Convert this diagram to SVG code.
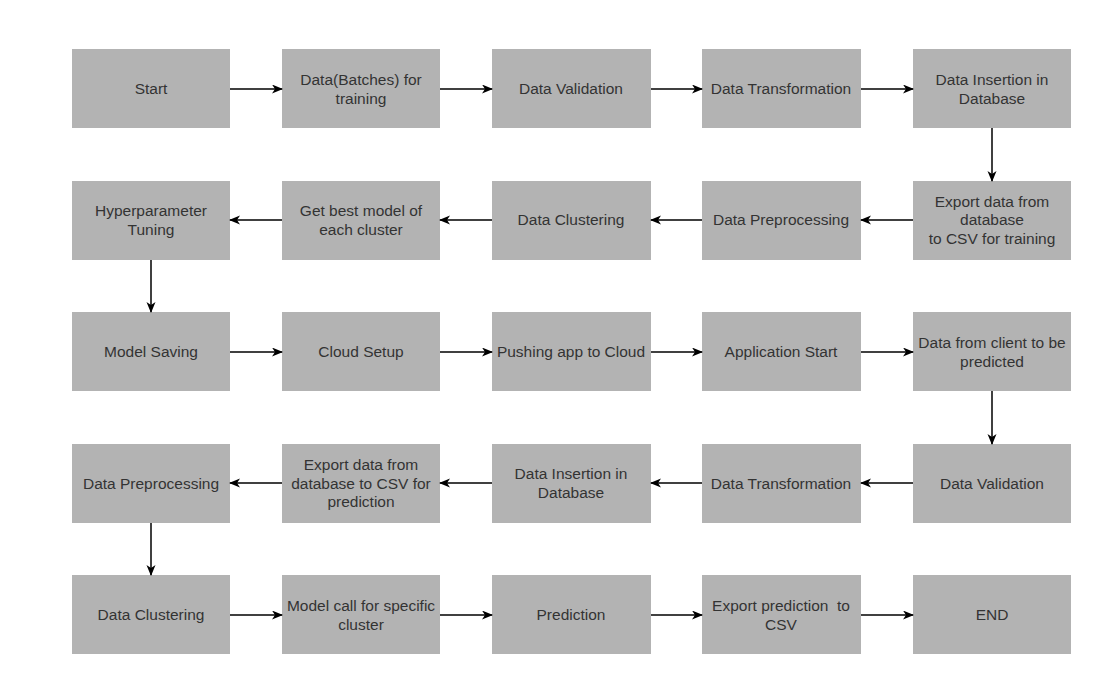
<svg xmlns="http://www.w3.org/2000/svg" width="1116" height="691" viewBox="0 0 1116 691">
<style>
.n rect{fill:#b3b3b3;stroke:none}
.n text{font-family:"Liberation Sans",Arial,sans-serif;font-size:15.5px;fill:#333333;text-anchor:middle}
.c path{stroke:#000000;stroke-width:1.5;fill:none;marker-end:url(#ah)}
</style>
<defs>
<marker id="ah" markerWidth="11" markerHeight="10" refX="10" refY="4.5" orient="auto" markerUnits="userSpaceOnUse">
<path d="M0,0 L11,4.5 L0,9 L3,4.5 Z" fill="#000000"/>
</marker>
</defs>
<rect width="1116" height="691" fill="#ffffff"/>
<g id="n1" class="n"><rect x="72" y="49" width="158" height="79"/><text x="151" y="94">Start</text></g>
<g id="n2" class="n"><rect x="282" y="49" width="158" height="79"/><text x="361" y="85">Data(Batches) for</text><text x="361" y="104">training</text></g>
<g id="n3" class="n"><rect x="492" y="49" width="159" height="79"/><text x="571" y="94">Data Validation</text></g>
<g id="n4" class="n"><rect x="702" y="49" width="159" height="79"/><text x="781" y="94">Data Transformation</text></g>
<g id="n5" class="n"><rect x="913" y="49" width="158" height="79"/><text x="992" y="85">Data Insertion in</text><text x="992" y="104">Database</text></g>
<g id="n6" class="n"><rect x="913" y="181" width="158" height="79"/><text x="992" y="207">Export data from</text><text x="992" y="225">database</text><text x="992" y="244">to CSV for training</text></g>
<g id="n7" class="n"><rect x="702" y="181" width="159" height="79"/><text x="781" y="225">Data Preprocessing</text></g>
<g id="n8" class="n"><rect x="492" y="181" width="159" height="79"/><text x="571" y="225">Data Clustering</text></g>
<g id="n9" class="n"><rect x="282" y="181" width="158" height="79"/><text x="361" y="216">Get best model of</text><text x="361" y="235">each cluster</text></g>
<g id="n10" class="n"><rect x="72" y="181" width="158" height="79"/><text x="151" y="216">Hyperparameter</text><text x="151" y="235">Tuning</text></g>
<g id="n11" class="n"><rect x="72" y="312" width="158" height="79"/><text x="151" y="357">Model Saving</text></g>
<g id="n12" class="n"><rect x="282" y="312" width="158" height="79"/><text x="361" y="357">Cloud Setup</text></g>
<g id="n13" class="n"><rect x="492" y="312" width="159" height="79"/><text x="571" y="357">Pushing app to Cloud</text></g>
<g id="n14" class="n"><rect x="702" y="312" width="159" height="79"/><text x="781" y="357">Application Start</text></g>
<g id="n15" class="n"><rect x="913" y="312" width="158" height="79"/><text x="992" y="348">Data from client to be</text><text x="992" y="367">predicted</text></g>
<g id="n16" class="n"><rect x="913" y="444" width="158" height="79"/><text x="992" y="489">Data Validation</text></g>
<g id="n17" class="n"><rect x="702" y="444" width="159" height="79"/><text x="781" y="489">Data Transformation</text></g>
<g id="n18" class="n"><rect x="492" y="444" width="159" height="79"/><text x="571" y="479">Data Insertion in</text><text x="571" y="498">Database</text></g>
<g id="n19" class="n"><rect x="282" y="444" width="158" height="79"/><text x="361" y="470">Export data from</text><text x="361" y="489">database to CSV for</text><text x="361" y="507">prediction</text></g>
<g id="n20" class="n"><rect x="72" y="444" width="158" height="79"/><text x="151" y="489">Data Preprocessing</text></g>
<g id="n21" class="n"><rect x="72" y="575" width="158" height="79"/><text x="151" y="620">Data Clustering</text></g>
<g id="n22" class="n"><rect x="282" y="575" width="158" height="79"/><text x="361" y="611">Model call for specific</text><text x="361" y="630">cluster</text></g>
<g id="n23" class="n"><rect x="492" y="575" width="159" height="79"/><text x="571" y="620">Prediction</text></g>
<g id="n24" class="n"><rect x="702" y="575" width="159" height="79"/><text x="781" y="611" style="white-space:pre">Export prediction  to</text><text x="781" y="630">CSV</text></g>
<g id="n25" class="n"><rect x="913" y="575" width="158" height="79"/><text x="992" y="620">END</text></g>
<g id="connectors" class="c">
<path d="M230,89 H282"/>
<path d="M440,89 H492"/>
<path d="M651,89 H702"/>
<path d="M861,89 H913"/>
<path d="M992,128 V181"/>
<path d="M913,220 H861"/>
<path d="M702,220 H651"/>
<path d="M492,220 H440"/>
<path d="M282,220 H230"/>
<path d="M151,260 V312"/>
<path d="M230,352 H282"/>
<path d="M440,352 H492"/>
<path d="M651,352 H702"/>
<path d="M861,352 H913"/>
<path d="M992,391 V444"/>
<path d="M913,483 H861"/>
<path d="M702,483 H651"/>
<path d="M492,483 H440"/>
<path d="M282,483 H230"/>
<path d="M151,523 V575"/>
<path d="M230,615 H282"/>
<path d="M440,615 H492"/>
<path d="M651,615 H702"/>
<path d="M861,615 H913"/>
</g>
</svg>
